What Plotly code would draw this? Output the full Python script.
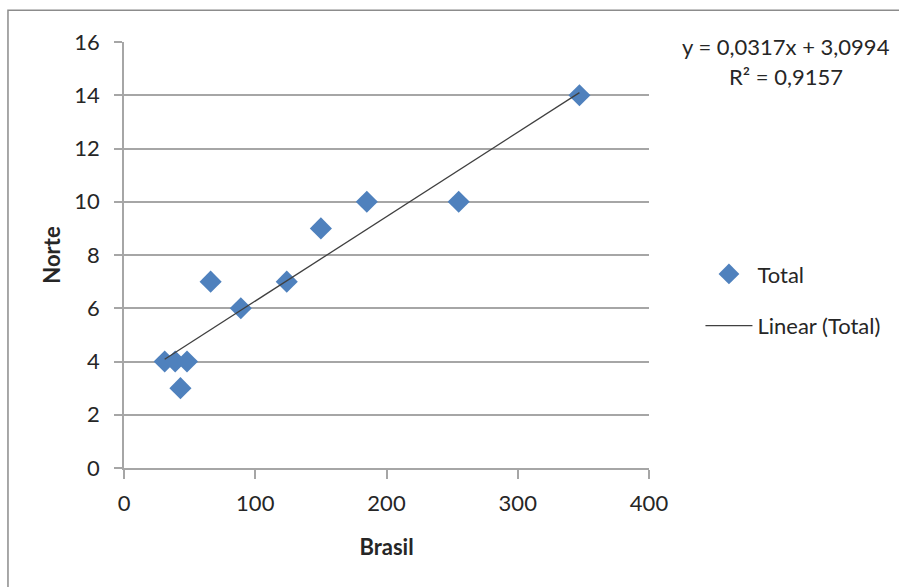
import plotly.graph_objects as go

# Data
brasil = [31, 39, 43, 48, 66, 89, 124, 150, 185, 255, 347]
norte = [4, 4, 3, 4, 7, 6, 7, 9, 10, 10, 14]

# Trendline coefficients as shown in the chart
slope = 0.0317
intercept = 3.0994
r2 = 0.9157

x_ticks = [0, 100, 200, 300, 400]
y_ticks = [0, 2, 4, 6, 8, 10, 12, 14, 16]

FONT = "Lato"
FS = 22
TXT = "#262626"
GRID = "#A6A6A6"
BLUE = "#4F81BD"

trend_x = [min(brasil), max(brasil)]
trend_y = [slope * v + intercept for v in trend_x]

fig = go.Figure()
fig.add_trace(go.Scatter(
    x=brasil, y=norte, mode="markers", name="Total", legendgroup="a",
    marker=dict(symbol="diamond", size=17, color=BLUE, line=dict(width=0)),
))
fig.add_trace(go.Scatter(
    x=trend_x, y=trend_y, mode="lines", name="Linear (Total)", legendgroup="b",
    line=dict(color="#404040", width=1.3),
))

def fmt(v):
    return f"{v}".replace(".", ",")

fig.update_layout(
    width=899, height=587, autosize=False,
    margin=dict(l=124, r=250, t=42, b=119),
    paper_bgcolor="white", plot_bgcolor="white",
    font=dict(family=FONT, size=FS, color=TXT),
    showlegend=True,
    legend=dict(
        x=1.098, y=0.394, xanchor="left", yanchor="middle",
        tracegroupgap=20, itemwidth=47,
        font=dict(family=FONT, size=FS, color=TXT),
        bgcolor="rgba(0,0,0,0)",
    ),
    xaxis=dict(
        range=[0, 400], tickvals=x_ticks, ticktext=[str(v) for v in x_ticks],
        showgrid=False, zeroline=False,
        showline=True, linecolor=GRID, linewidth=1.5,
        ticks="outside", ticklen=9, tickcolor=GRID, tickwidth=1.5,
        ticklabelstandoff=6,
        tickfont=dict(family=FONT, size=FS, color=TXT),
        title=dict(text="<b>Brasil</b>", standoff=24,
                   font=dict(family=FONT, size=FS, color=TXT)),
    ),
    yaxis=dict(
        range=[0, 16], tickvals=y_ticks, ticktext=[str(v) for v in y_ticks],
        showgrid=True, gridcolor=GRID, gridwidth=1.5, zeroline=False,
        showline=True, linecolor=GRID, linewidth=1.5,
        ticks="outside", ticklen=8, tickcolor=GRID, tickwidth=1.5,
        tickfont=dict(family=FONT, size=FS, color=TXT),
        ticklabelstandoff=10,
        title=dict(text="<b>Norte</b>", standoff=8,
                   font=dict(family=FONT, size=FS, color=TXT)),
    ),
    annotations=[
        dict(xref="paper", yref="paper", x=1.2617, y=0.990,
             text=f"y = {fmt(slope)}x + {fmt(intercept)}", showarrow=False,
             xanchor="center", yanchor="middle",
             font=dict(family=FONT, size=FS, color=TXT)),
        dict(xref="paper", yref="paper", x=1.2617, y=0.920,
             text=f"R² = {fmt(r2)}", showarrow=False,
             xanchor="center", yanchor="middle",
             font=dict(family=FONT, size=FS, color=TXT)),
    ],
    shapes=[
        dict(type="rect", xref="paper", yref="paper",
             x0=-0.221, y0=-0.35, x1=1.6, y1=1.0743,
             line=dict(color="#8C8C8C", width=1.5), layer="below"),
    ],
)

fig.write_html("out.html")
